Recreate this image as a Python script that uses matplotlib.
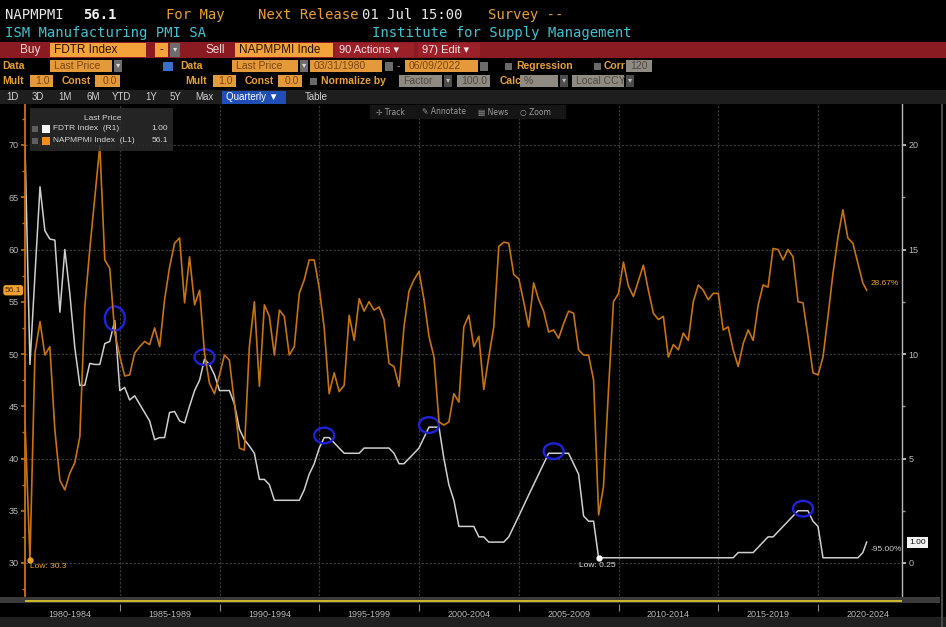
"""Bloomberg-style G chart: FDTR (fed funds target) vs ISM Manufacturing PMI, quarterly."""

import matplotlib

matplotlib.use("Agg")
import matplotlib.pyplot as plt  # noqa: E402
import matplotlib.transforms as mtransforms  # noqa: E402
import numpy as np  # noqa: E402
import pandas as pd  # noqa: E402
from matplotlib.patches import Ellipse, Rectangle  # noqa: E402

# ---------------------------------------------------------------- data
quarters = pd.period_range("1980Q1", "2022Q2", freq="Q")
last_date = "2022-06-09"

# ISM Manufacturing PMI SA (NAPMPMI), quarterly last price
pmi = [
    43.6, 30.3, 50.1, 53.1,  49.9, 50.7, 42.7, 37.9,  37.0, 38.6, 39.6, 42.1,
    54.5, 60.0, 65.0, 69.9,  59.0, 58.2, 52.0, 49.8,  47.9, 48.0, 50.1, 50.7,
    51.2, 50.9, 52.5, 50.7,  55.2, 58.3, 60.6, 61.1,  54.9, 59.3, 54.7, 56.1,
    50.1, 47.2, 46.2, 48.0,  49.9, 49.4, 45.3, 41.0,  40.8, 50.7, 55.0, 46.9,
    54.7, 53.6, 49.9, 54.2,  53.6, 49.9, 50.7, 55.8,  57.1, 59.0, 59.0, 56.3,
    52.5, 46.2, 48.2, 46.4,  47.0, 53.7, 51.3, 55.3,  54.1, 55.0, 54.2, 54.5,
    53.3, 49.1, 48.8, 46.9,  52.6, 56.0, 57.1, 57.9,  55.2, 51.7, 49.7, 43.5,
    43.2, 43.5, 46.2, 45.4,  52.6, 53.7, 50.7, 51.7,  46.6, 49.7, 52.6, 60.3,
    60.7, 60.6, 57.6, 57.2,  55.0, 52.6, 56.8, 55.2,  54.1, 52.1, 52.3, 51.5,
    52.9, 54.1, 53.9, 50.4,  49.9, 49.9, 47.5, 34.6,  37.3, 46.5, 55.0, 55.8,
    58.8, 56.5, 55.5, 57.0,  58.5, 56.1, 53.9, 53.3,  53.6, 49.7, 50.9, 50.4,
    52.0, 51.3, 55.0, 56.6,  56.1, 55.2, 55.8, 55.8,  52.3, 52.6, 50.4, 48.8,
    51.0, 52.3, 51.3, 54.7,  56.6, 56.4, 60.1, 60.0,  59.0, 60.0, 59.3, 55.0,
    54.9, 51.7, 48.2, 48.0,  49.7, 53.6, 57.7, 61.2,  63.8, 61.1, 60.6, 58.7,
    56.8, 56.1,
]

# Fed funds target rate (FDTR), quarterly last price
fdtr = [
    20.0, 9.5, 13.8, 18.0,  15.9, 15.5, 15.45, 12.0,  15.0, 12.9, 10.3, 8.5,
    8.5, 9.55, 9.5, 9.5,  10.5, 10.6, 11.6, 8.25,  8.4, 7.8, 8.0, 7.6,
    7.2, 6.8, 5.9, 6.0,  6.0, 7.2, 7.25, 6.8,  6.7, 7.5, 8.25, 8.75,
    9.75, 9.5, 9.0, 8.25,  8.25, 8.25, 7.6, 6.4,  5.9, 5.6, 5.25, 4.0,
    4.0, 3.75, 3.0, 3.0,  3.0, 3.0, 3.0, 3.0,  3.5, 4.25, 4.75, 5.5,
    6.0, 6.0, 5.75, 5.5,  5.25, 5.25, 5.25, 5.25,  5.5, 5.5, 5.5, 5.5,
    5.5, 5.5, 5.25, 4.75,  4.75, 5.0, 5.25, 5.5,  6.0, 6.5, 6.5, 6.5,
    5.0, 3.75, 3.0, 1.75,  1.75, 1.75, 1.75, 1.25,  1.25, 1.0, 1.0, 1.0,
    1.0, 1.25, 1.75, 2.25,  2.75, 3.25, 3.75, 4.25,  4.75, 5.25, 5.25, 5.25,
    5.25, 5.25, 4.75, 4.25,  2.25, 2.0, 2.0, 0.25,  0.25, 0.25, 0.25, 0.25,
    0.25, 0.25, 0.25, 0.25,  0.25, 0.25, 0.25, 0.25,  0.25, 0.25, 0.25, 0.25,
    0.25, 0.25, 0.25, 0.25,  0.25, 0.25, 0.25, 0.25,  0.25, 0.25, 0.25, 0.5,
    0.5, 0.5, 0.5, 0.75,  1.0, 1.25, 1.25, 1.5,  1.75, 2.0, 2.25, 2.5,
    2.5, 2.5, 2.0, 1.75,  0.25, 0.25, 0.25, 0.25,  0.25, 0.25, 0.25, 0.25,
    0.5, 1.0,
]

# peaks that were circled by hand on the screenshot
circled = ["1984Q3", "1989Q1", "1995Q1", "2000Q2", "2006Q3", "2019Q1"]

band_starts = [1980, 1985, 1990, 1995, 2000, 2005, 2010, 2015, 2020]
band_labels = ["1980-1984", "1985-1989", "1990-1994", "1995-1999", "2000-2004",
               "2005-2009", "2010-2014", "2015-2019", "2020-2024"]

# ---------------------------------------------------------------- style
W, H = 946, 627
MONO = ["DejaVu Sans Mono"]
UI = ["Liberation Sans Narrow", "Liberation Sans", "DejaVu Sans"]
ORANGE = "#c97212"
ORANGE_TXT = "#e9a032"
WHITE_LINE = "#cfcfcf"
CYAN = "#3fc2d2"
TICK_TXT = "#bcbcbc"
BLUE = "#1e22d8"


def fx(x):
    return x / W


def fy(y):
    return 1 - y / H


def rect(fig, x0, y0, x1, y1, color, alpha=1.0, z=1):
    fig.add_artist(Rectangle((fx(x0), fy(y1)), (x1 - x0) / W, (y1 - y0) / H,
                             transform=fig.transFigure, facecolor=color,
                             edgecolor="none", alpha=alpha, zorder=z))


def text(fig, x, y, s, color, size=7.5, family=UI, ha="left", **kw):
    fig.text(fx(x), fy(y), s, color=color, fontsize=size, family=family,
             ha=ha, va="center", zorder=5, **kw)


def boxed(fig, x0, x1, y0, y1, s, bg, fg, size=7.5, ha="left"):
    rect(fig, x0, y0, x1, y1, bg, z=2)
    tx = x0 + 4 if ha == "left" else (x1 - 3 if ha == "right" else (x0 + x1) / 2)
    text(fig, tx, (y0 + y1) / 2, s, fg, size=size, ha=ha)


dates = quarters.end_time.normalize().to_series().reset_index(drop=True)
dates.iloc[-1] = pd.Timestamp(last_date)
t = (dates.dt.year + (dates.dt.dayofyear - 1) / 365.25).to_numpy()
pmi = np.array(pmi)
fdtr = np.array(fdtr)

fig = plt.figure(figsize=(W / 100, H / 100), dpi=100, facecolor="black")

# ---------------------------------------------------------------- header
text(fig, 5, 15, "NAPMPMI", "#e8e8e8", 10, MONO)
text(fig, 83, 15, f"{pmi[-1]:.1f}", "#f2f2f2", 10, MONO, weight="bold")
text(fig, 166, 15, "For May", ORANGE_TXT, 10, MONO)
text(fig, 258, 15, "Next Release", ORANGE_TXT, 10, MONO)
text(fig, 362, 15, "01 Jul 15:00", "#e8e8e8", 10, MONO)
text(fig, 488, 15, "Survey --", ORANGE_TXT, 10, MONO)
text(fig, 5, 33, "ISM Manufacturing PMI SA", CYAN, 10, MONO)
text(fig, 372, 33, "Institute for Supply Management", CYAN, 10, MONO)

# red order bar
rect(fig, 0, 42, W, 58, "#8a1b22")
text(fig, 20, 50, "Buy", "#f0d8d8", 8.5)
boxed(fig, 50, 146, 43, 57, "FDTR Index", "#f4a23a", "#2a1400", 8.5)
boxed(fig, 155, 168, 43, 57, "-", "#f4a23a", "#2a1400", 8.5, ha="center")
boxed(fig, 170, 180, 43, 57, "▾", "#6c6c6c", "#dddddd", 6, ha="center")
text(fig, 205, 50, "Sell", "#f0d8d8", 8.5)
boxed(fig, 235, 333, 43, 57, "NAPMPMI Inde", "#f4a23a", "#2a1400", 8.5)
rect(fig, 335, 43, 414, 57, "#9c2028", z=2)
text(fig, 339, 50, "90 Actions ▾", "#f3e6e6", 8)
rect(fig, 418, 43, 480, 57, "#9c2028", z=2)
text(fig, 422, 50, "97) Edit ▾", "#f3e6e6", 8)

# data row
BOX_O, BOX_OT = "#e49a3a", "#7c4610"
BOX_G, BOX_GT = "#8f8a82", "#4e4a44"
text(fig, 2, 66, "Data", ORANGE_TXT, 7.5, weight="bold")
boxed(fig, 50, 112, 60, 72, "Last Price", BOX_O, BOX_OT, 7.5)
boxed(fig, 114, 122, 60, 72, "▾", "#6c6c6c", "#dddddd", 6, ha="center")
rect(fig, 163, 62, 173, 71, "#3a6fc8", z=2)
text(fig, 180, 66, "Data", ORANGE_TXT, 7.5, weight="bold")
boxed(fig, 232, 298, 60, 72, "Last Price", BOX_O, BOX_OT, 7.5)
boxed(fig, 300, 308, 60, 72, "▾", "#6c6c6c", "#dddddd", 6, ha="center")
boxed(fig, 310, 382, 60, 72, "03/31/1980", BOX_O, BOX_OT, 7.5)
rect(fig, 385, 62, 393, 71, "#6c6c6c", z=2)
text(fig, 397, 66, "-", ORANGE_TXT, 7.5)
boxed(fig, 405, 478, 60, 72, "06/09/2022", BOX_O, BOX_OT, 7.5)
rect(fig, 480, 62, 488, 71, "#6c6c6c", z=2)
rect(fig, 505, 63, 512, 70, "#6a6a6a", z=2)
text(fig, 516, 66, "Regression", ORANGE_TXT, 7.5, weight="bold")
rect(fig, 594, 63, 601, 70, "#6a6a6a", z=2)
text(fig, 604, 66, "Corr", ORANGE_TXT, 7.5, weight="bold")
boxed(fig, 626, 652, 60, 72, "120", BOX_G, BOX_GT, 7.5)

# mult / const row
text(fig, 2, 81, "Mult", ORANGE_TXT, 7.5, weight="bold")
boxed(fig, 30, 53, 75, 87, "1.0", BOX_O, BOX_OT, 7.5, ha="right")
text(fig, 62, 81, "Const", ORANGE_TXT, 7.5, weight="bold")
boxed(fig, 95, 120, 75, 87, "0.0", BOX_O, BOX_OT, 7.5, ha="right")
text(fig, 185, 81, "Mult", ORANGE_TXT, 7.5, weight="bold")
boxed(fig, 213, 236, 75, 87, "1.0", BOX_O, BOX_OT, 7.5, ha="right")
text(fig, 245, 81, "Const", ORANGE_TXT, 7.5, weight="bold")
boxed(fig, 278, 302, 75, 87, "0.0", BOX_O, BOX_OT, 7.5, ha="right")
rect(fig, 310, 78, 317, 85, "#6a6a6a", z=2)
text(fig, 321, 81, "Normalize by", ORANGE_TXT, 7.5, weight="bold")
boxed(fig, 399, 442, 75, 87, "Factor", BOX_G, BOX_GT, 7.5)
boxed(fig, 444, 452, 75, 87, "▾", "#4c4c4c", "#bbbbbb", 6, ha="center")
boxed(fig, 457, 490, 75, 87, "100.0", BOX_G, BOX_GT, 7.5, ha="right")
text(fig, 500, 81, "Calc", ORANGE_TXT, 7.5, weight="bold")
boxed(fig, 520, 558, 75, 87, "%", BOX_G, BOX_GT, 7.5)
boxed(fig, 560, 568, 75, 87, "▾", "#4c4c4c", "#bbbbbb", 6, ha="center")
boxed(fig, 572, 624, 75, 87, "Local CCY", BOX_G, BOX_GT, 7.5)
boxed(fig, 626, 634, 75, 87, "▾", "#4c4c4c", "#bbbbbb", 6, ha="center")

# period row
rect(fig, 0, 90, W, 104, "#1e1e1e")
for x, s in zip([6, 32, 58, 86, 112, 145, 170, 195],
                ["1D", "3D", "1M", "6M", "YTD", "1Y", "5Y", "Max"]):
    text(fig, x, 97, s, "#d0d0d0", 7)
boxed(fig, 222, 286, 91, 104, "Quarterly ▼", "#1f4fb4", "#ffffff", 7)
text(fig, 305, 97, "Table", "#d0d0d0", 7)

# ---------------------------------------------------------------- chart
AX_L, AX_R, AX_T, AX_B = 25, 902, 104, 596
PX_PER_YEAR = 19.95
x0 = 1980.247
xlim = (x0, x0 + (AX_R - AX_L) / PX_PER_YEAR)
# left axis: 30 sits at y=563, 10.45 px per point; right axis is (left - 30) / 2
lo = 30 - (AX_B - 563) / 10.45
hi = 30 + (563 - AX_T) / 10.45

ax_r = fig.add_axes([fx(AX_L), fy(AX_B), (AX_R - AX_L) / W, (AX_B - AX_T) / H])
ax_r.set_facecolor("black")
ax_r.set_xlim(*xlim)
ax_r.set_ylim((lo - 30) / 2, (hi - 30) / 2)
ax_l = ax_r.twinx()
ax_l.set_ylim(lo, hi)
ax_r.yaxis.tick_right()
ax_l.yaxis.tick_left()

for a in (ax_r, ax_l):
    for s in a.spines.values():
        s.set_visible(False)
ax_l.spines["left"].set_visible(True)
ax_l.spines["left"].set_color(ORANGE)
ax_l.spines["left"].set_linewidth(1.3)
ax_r.spines["right"].set_visible(True)
ax_r.spines["right"].set_color("#b8b8b8")
ax_r.spines["right"].set_linewidth(1.0)

# y ticks
ax_l.set_yticks(np.arange(30, 71, 5))
ax_l.set_yticks(np.arange(27.5, 73, 2.5), minor=True)
ax_l.tick_params(axis="y", which="major", length=3, width=1.2, color=ORANGE,
                 labelcolor=TICK_TXT, labelsize=6.5, pad=1.5)
ax_l.tick_params(axis="y", which="minor", length=2, width=1, color=ORANGE)
ax_r.set_yticks(np.arange(0, 21, 5))
ax_r.set_yticks(np.arange(2.5, 21, 5), minor=True)
ax_r.tick_params(axis="y", which="major", length=3, width=1.2, color="#d0d0d0",
                 labelcolor=TICK_TXT, labelsize=6.5, pad=1.5)
ax_r.tick_params(axis="y", which="minor", length=2, width=1, color="#9a9a9a")
for a in (ax_l, ax_r):
    for lab in a.get_yticklabels():
        lab.set_family(UI)

# x ticks: grid at band boundaries, labels at band centres (below the slider)
ax_r.set_xticks(band_starts[1:])
ax_r.set_xticks([b + 2.5 for b in band_starts], band_labels, minor=True, family=UI)
ax_r.tick_params(axis="x", which="major", length=0, labelbottom=False)
ax_r.tick_params(axis="x", which="minor", length=0, labelsize=6.5,
                 labelcolor=TICK_TXT, pad=10)
ax_l.tick_params(axis="x", which="both", length=0, labelbottom=False)
ax_r.grid(True, which="major", color="#363636", lw=0.9, ls=(0, (2, 1.2)))
ax_r.set_axisbelow(True)

# series
ax_r.plot(t, fdtr, color=WHITE_LINE, lw=1.1, zorder=3)
ax_l.plot(t, pmi, color=ORANGE, lw=1.2, zorder=3)

# hand-drawn circles on FDTR peaks
for q in circled:
    i = quarters.get_loc(pd.Period(q, freq="Q"))
    tall = 1.15 if q == circled[0] else 0.75
    ax_r.add_patch(Ellipse((t[i], fdtr[i] + 0.1), 1.0, tall, fill=False,
                           edgecolor=BLUE, lw=1.7, zorder=6))

# lows
i_lo = int(np.argmin(pmi))
ax_l.plot(t[i_lo], pmi[i_lo], "o", ms=3.5, color=ORANGE_TXT, zorder=5)
ax_l.annotate(f"Low: {pmi[i_lo]:.1f}", (t[i_lo], pmi[i_lo]), xytext=(0, -2.5),
              textcoords="offset points", ha="left", va="top", color=ORANGE_TXT,
              fontsize=6, family=UI)
j_lo = int(np.argmin(fdtr))
ax_r.plot(t[j_lo], fdtr[j_lo], "o", ms=3.5, color="white", zorder=5)
ax_r.annotate(f"Low: {fdtr[j_lo]:.2f}", (t[j_lo], fdtr[j_lo]), xytext=(-1, -3),
              textcoords="offset points", ha="center", va="top", color="#e0e0e0",
              fontsize=6, family=UI)

# change since start, and last-price tags on the axes
pct_pmi = (pmi[-1] / pmi[0] - 1) * 100
pct_fdtr = (fdtr[-1] / fdtr[0] - 1) * 100
ax_l.annotate(f"{pct_pmi:.2f}%", (t[-1], pmi[-1]), xytext=(3, 5),
              textcoords="offset points", ha="left", va="center",
              color=ORANGE_TXT, fontsize=6, family=UI)
ax_r.annotate(f"{pct_fdtr:.2f}%", (t[-1], fdtr[-1]), xytext=(3, -5),
              textcoords="offset points", ha="left", va="center",
              color="#cfcfcf", fontsize=6, family=UI)
tl = mtransforms.blended_transform_factory(ax_l.transAxes, ax_l.transData)
ax_l.text(-0.004, pmi[-1], f"{pmi[-1]:.1f}", transform=tl, ha="right", va="center",
          fontsize=6, family=UI, color="#4a2500", clip_on=False, zorder=7,
          bbox=dict(boxstyle="round,pad=0.2,rounding_size=0.3", fc="#f0a030", ec="none"))
tr = mtransforms.blended_transform_factory(ax_r.transAxes, ax_r.transData)
ax_r.text(1.008, fdtr[-1], f"{fdtr[-1]:.2f}", transform=tr, ha="left", va="center",
          fontsize=6, family=UI, color="#111111", clip_on=False, zorder=7,
          bbox=dict(boxstyle="square,pad=0.25", fc="#f4f4f4", ec="none"))

# band boundary marks below the slider
ax_r.vlines(band_starts[1:], -0.016, -0.03, transform=mtransforms.blended_transform_factory(
    ax_r.transData, ax_r.transAxes), color="#8a8a8a", lw=0.8, clip_on=False)

# legend
rect(fig, 30, 108, 173, 151, "#2b2b2b", alpha=0.85, z=4)
text(fig, 103, 118, "Last Price", "#d6d6d6", 6, ha="center")
rect(fig, 32, 126, 38, 132, "#5e5e5e", z=5)
rect(fig, 42, 125, 50, 133, "#f4f4f4", z=5)
text(fig, 53, 129, "FDTR Index  (R1)", "#d6d6d6", 6)
text(fig, 168, 129, f"{fdtr[-1]:.2f}", "#d6d6d6", 6, ha="right")
rect(fig, 32, 138, 38, 144, "#5e5e5e", z=5)
rect(fig, 42, 137, 50, 145, "#f08c1a", z=5)
text(fig, 53, 141, "NAPMPMI Index  (L1)", "#d6d6d6", 6)
text(fig, 168, 141, f"{pmi[-1]:.1f}", "#d6d6d6", 6, ha="right")

# chart toolbar
rect(fig, 370, 105, 566, 119, "#151515", z=4)
for x, s in zip([376, 422, 478, 520], ["✢ Track", "✎ Annotate", "▤ News", "○ Zoom"]):
    text(fig, x, 112, s, "#9c9c9c", 5.5, family=["DejaVu Sans"])

# slider + bottom strip
rect(fig, 0, 597, 940, 603, "#3a3a3a", z=2)
rect(fig, AX_L, 600, AX_R, 601.5, "#cdb52c", z=3)
rect(fig, 0, 617, W, 627, "#202020", z=2)
rect(fig, 941, 104, 943, 627, "#4a4a4a", z=2)

fig.savefig("out.png", dpi=100, facecolor="black")
